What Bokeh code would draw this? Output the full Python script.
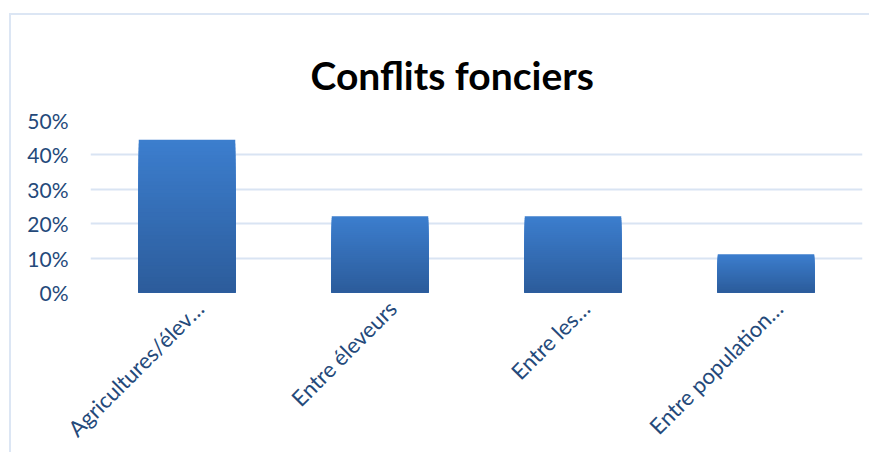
import numpy as np
from bokeh.plotting import figure
from bokeh.models import (Range1d, NumeralTickFormatter, FixedTicker, ColumnDataSource,
                          LinearAxis)
from bokeh.embed import file_html
from bokeh.resources import INLINE

categories = ["Agricultures/élev…", "Entre éleveurs", "Entre les…", "Entre population…"]
values = [0.444, 0.222, 0.222, 0.111]
y_ticks = [0.0, 0.1, 0.2, 0.3, 0.4, 0.5]
title_text = "Conflits fonciers"

FONT = "Lato"
TICK_COLOR = "#24497A"

n = len(categories)
centers = [i + 0.5 for i in range(n)]

p = figure(x_range=Range1d(0, n), y_range=Range1d(0, 0.5), width=860, height=439,
           output_backend="svg", toolbar_location=None,
           min_border_left=79, min_border_right=9, min_border_top=105, min_border_bottom=162)
p.styles = {"margin-left": "9px", "margin-top": "13px",
            "border-left": "2px solid #DCE6F4", "border-top": "2px solid #DCE6F4"}

# gradient bars: nested bars from the data values, tallest (lightest) first
N = 40
top_c = np.array([0x3C, 0x7E, 0xCE])
bot_c = np.array([0x2C, 0x5C, 0x9B])
xs, tops, cols = [], [], []
for k in range(N, 0, -1):
    f = (k - 0.5) / N
    rgb = bot_c + (top_c - bot_c) * f
    col = "#%02x%02x%02x" % tuple(int(round(c)) for c in rgb)
    for x, v in zip(centers, values):
        xs.append(x)
        tops.append(v * k / N)
        cols.append(col)
src = ColumnDataSource(dict(x=xs, top=tops, color=cols))
p.vbar(x="x", bottom=0, top="top", width=0.5, source=src,
       fill_color="color", line_color=None)

p.title.text = title_text
p.title.text_font = FONT
p.title.text_font_style = "bold"
p.title.text_font_size = "39px"
p.title.text_color = "#000000"
p.title.align = "left"
p.title.offset = 220
p.title.standoff = 46

p.outline_line_color = None
p.xgrid.grid_line_color = None
p.ygrid.grid_line_color = "#D9E4F3"
p.ygrid.grid_line_width = 2
p.yaxis.ticker = FixedTicker(ticks=y_ticks)
p.yaxis.formatter = NumeralTickFormatter(format="0%")
p.yaxis.axis_line_color = None
p.yaxis.major_tick_line_color = None
p.yaxis.minor_tick_line_color = None
p.yaxis.major_label_text_font = FONT
p.yaxis.major_label_text_color = TICK_COLOR
p.yaxis.major_label_text_font_size = "21px"
p.yaxis.major_label_standoff = 16

# category labels: shown on an axis whose positions are shifted slightly right
p.xaxis.visible = False
shift = 0.065
p.extra_x_ranges = {"labels": Range1d(-shift, n - shift)}
lab_axis = LinearAxis(x_range_name="labels", ticker=FixedTicker(ticks=centers),
                      major_label_overrides={pos: c for pos, c in zip(centers, categories)})
lab_axis.axis_line_color = None
lab_axis.major_tick_line_color = None
lab_axis.minor_tick_line_color = None
lab_axis.major_tick_out = 0
lab_axis.major_tick_in = 0
lab_axis.major_label_text_font = FONT
lab_axis.major_label_text_color = TICK_COLOR
lab_axis.major_label_text_font_size = "22px"
lab_axis.major_label_orientation = np.pi / 4
lab_axis.major_label_standoff = 12
p.add_layout(lab_axis, "below")

open("out.html", "w").write(file_html(p, INLINE))
